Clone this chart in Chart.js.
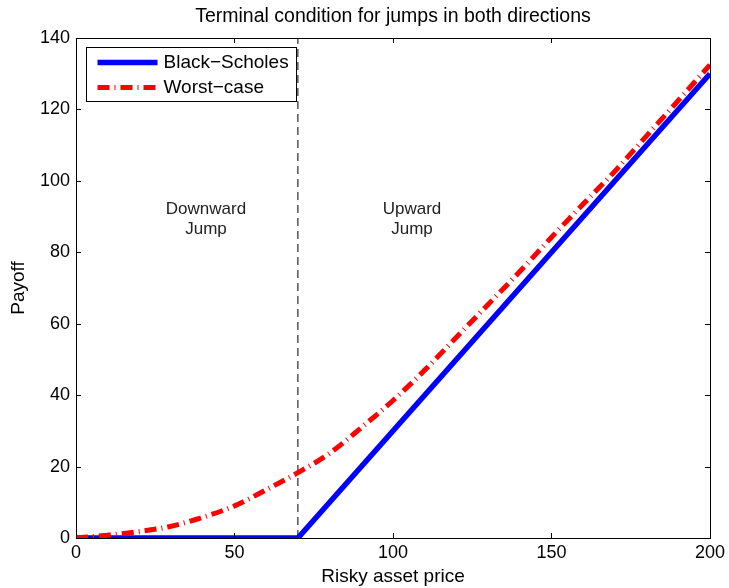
<!DOCTYPE html>
<html>
<head>
<meta charset="utf-8">
<script src="https://cdn.jsdelivr.net/npm/chart.js@4/dist/chart.umd.min.js"></script>
<style>
  html, body { margin: 0; padding: 0; background: #fff; }
</style>
</head>
<body>
<canvas id="chart" width="729" height="588"></canvas>
<script>
// Black-Scholes terminal payoff (kinked at the strike)
const spotBS = [0, 70, 200];
const payoffBS = [0, 0, 130];

// Worst-case terminal condition
const spotWC = [0, 10, 20, 30, 40, 50, 60, 70, 80, 90, 100, 110, 120, 130, 140, 150, 160, 170, 180, 190, 200];
const payoffWC = [0, 0.8, 1.8, 3.3, 5.8, 9.0, 13.5, 18.3, 23.7, 30.9, 38.5, 47.0, 56.2, 65.4, 74.6, 84.2, 93.5, 102.7, 112.6, 122.5, 132.5];

// dashed separator between the two jump regions
const jumpSpot = [70, 70];
const jumpPayoff = [0, 140];

const regionText = [["Downward", "Jump"], ["Upward", "Jump"]];
const regionX = [41, 106];
const regionY = 92;

const xRange = [0, 200];
const yRange = [0, 140];
const xStep = 50;
const yStep = 20;

const FONT = "'Liberation Sans', Arial, Helvetica, sans-serif";

function pts(xs, ys) {
  return xs.map((x, i) => ({ x, y: ys[i] }));
}

const datasets = [
  {
    label: "Black\u2212Scholes",
    data: pts(spotBS, payoffBS),
    borderColor: "#0000ff",
    borderWidth: 5.5,
    tension: 0,
    order: 2,
    inLegend: true
  },
  {
    label: "Worst\u2212case",
    data: pts(spotWC, payoffWC),
    borderColor: "#ff0000",
    borderWidth: 5,
    borderDash: [12, 5, 1, 5],
    cubicInterpolationMode: "monotone",
    order: 1,
    inLegend: true
  },
  {
    label: "jump",
    data: pts(jumpSpot, jumpPayoff),
    borderColor: "#000",
    borderWidth: 1,
    borderDash: [8, 5],
    order: 3,
    inLegend: false
  }
];

// box, inward ticks, legend and region notes in MATLAB style
const matlabAxes = {
  id: "matlabAxes",
  afterDraw(chart) {
    const { ctx, chartArea: a, scales } = chart;
    const tl = 5;
    ctx.save();
    ctx.strokeStyle = "#000";
    ctx.lineWidth = 1;
    ctx.setLineDash([]);
    ctx.strokeRect(Math.round(a.left) + 0.5, Math.round(a.top) + 0.5,
      Math.round(a.right - a.left), Math.round(a.bottom - a.top));
    ctx.beginPath();
    scales.x.ticks.forEach(t => {
      const px = Math.round(scales.x.getPixelForValue(t.value)) + 0.5;
      ctx.moveTo(px, a.bottom); ctx.lineTo(px, a.bottom - tl);
      ctx.moveTo(px, a.top); ctx.lineTo(px, a.top + tl);
    });
    scales.y.ticks.forEach(t => {
      const py = Math.round(scales.y.getPixelForValue(t.value)) + 0.5;
      ctx.moveTo(a.left, py); ctx.lineTo(a.left + tl, py);
      ctx.moveTo(a.right, py); ctx.lineTo(a.right - tl, py);
    });
    ctx.stroke();

    // region notes
    ctx.fillStyle = "#222";
    ctx.font = "17px " + FONT;
    ctx.textAlign = "center";
    ctx.textBaseline = "middle";
    regionText.forEach((lines, i) => {
      const px = scales.x.getPixelForValue(regionX[i]);
      const py = scales.y.getPixelForValue(regionY);
      lines.forEach((s, j) => ctx.fillText(s, px, py + j * 20));
    });

    // legend
    const lx = Math.round(a.left) + 10.5, ly = Math.round(a.top) + 9.5;
    ctx.fillStyle = "#fff";
    ctx.fillRect(lx, ly, 210, 54);
    ctx.strokeStyle = "#000";
    ctx.lineWidth = 1;
    ctx.strokeRect(lx, ly, 210, 54);
    const items = chart.data.datasets.filter(d => d.inLegend);
    ctx.font = "19px " + FONT;
    ctx.textAlign = "left";
    items.forEach((d, i) => {
      const y = ly + 15 + i * 25;
      ctx.strokeStyle = d.borderColor;
      ctx.lineWidth = d.borderWidth;
      ctx.setLineDash(d.borderDash || []);
      ctx.beginPath();
      ctx.moveTo(lx + 11, y);
      ctx.lineTo(lx + 71, y);
      ctx.stroke();
      ctx.setLineDash([]);
      ctx.fillStyle = "#000";
      ctx.fillText(d.label, lx + 77, y);
    });
    ctx.restore();
  }
};

new Chart(document.getElementById("chart"), {
  type: "line",
  data: { datasets },
  options: {
    responsive: false,
    animation: false,
    clip: 0,
    layout: { padding: { left: 0, right: 18, top: 0, bottom: 0 } },
    elements: { point: { radius: 0 } },
    plugins: {
      legend: { display: false },
      tooltip: { enabled: false },
      title: {
        display: true,
        fullSize: false,
        text: "Terminal condition for jumps in both directions",
        color: "#000",
        font: { family: FONT, size: 19.5, weight: "normal" },
        padding: { top: 5, bottom: 9.6 }
      }
    },
    scales: {
      x: {
        type: "linear",
        min: xRange[0],
        max: xRange[1],
        grid: { display: false, drawTicks: false },
        border: { display: false },
        ticks: { stepSize: xStep, color: "#000", padding: 4, font: { family: FONT, size: 18 } },
        title: {
          display: true,
          text: "Risky asset price",
          color: "#000",
          font: { family: FONT, size: 19 },
          padding: { top: 0, bottom: 0 }
        },
        afterFit: s => { s.height = 50; }
      },
      y: {
        type: "linear",
        min: yRange[0],
        max: yRange[1],
        grid: { display: false, drawTicks: false },
        border: { display: false },
        ticks: { stepSize: yStep, color: "#000", padding: 6, font: { family: FONT, size: 18 } },
        title: {
          display: true,
          text: "Payoff",
          color: "#000",
          font: { family: FONT, size: 19 },
          padding: { top: 7, bottom: 0 }
        },
        afterFit: s => { s.width = 76; }
      }
    }
  },
  plugins: [matlabAxes]
});
</script>
</body>
</html>
